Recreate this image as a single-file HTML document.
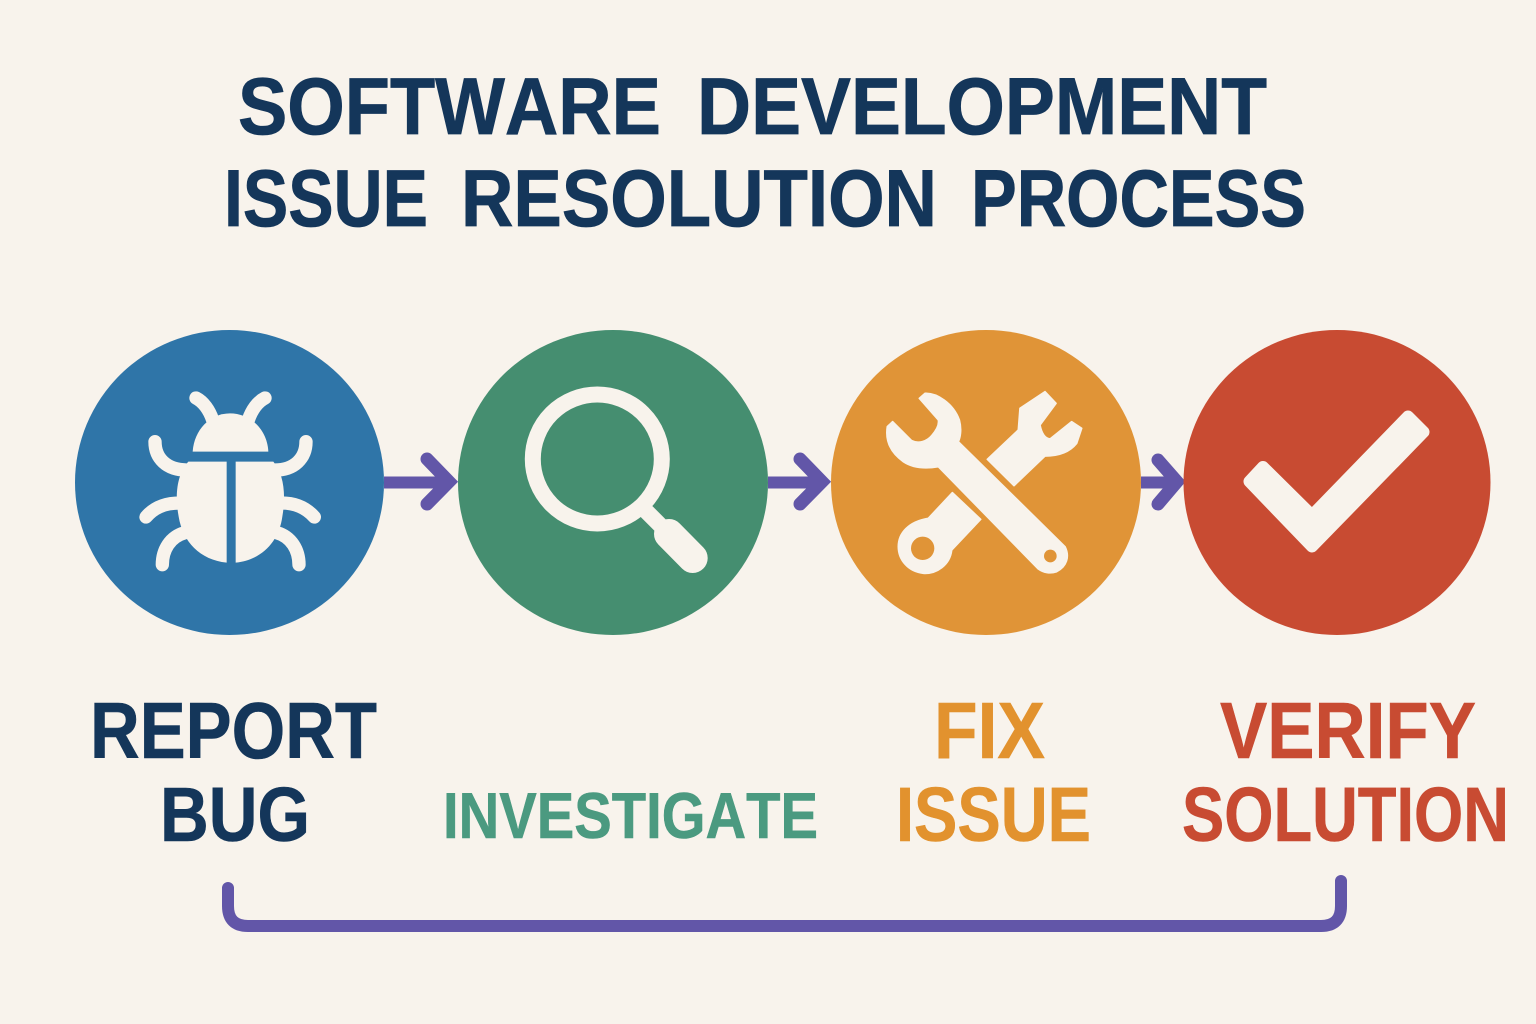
<!DOCTYPE html>
<html><head><meta charset="utf-8"><style>
html,body{margin:0;padding:0;background:#f8f3ec;width:1536px;height:1024px;overflow:hidden}
svg{display:block}
text{font-family:"Liberation Sans",sans-serif;font-weight:bold;font-kerning:none}
</style></head><body>
<svg xmlns="http://www.w3.org/2000/svg" width="1536" height="1024" viewBox="0 0 1536 1024">
<rect width="1536" height="1024" fill="#f8f3ec"/>
<g fill="#14365a" stroke="#14365a" stroke-width=".8" font-size="81">
<text x="238" y="134" textLength="423" lengthAdjust="spacingAndGlyphs">SOFTWARE</text>
<text x="697" y="134" textLength="570" lengthAdjust="spacingAndGlyphs">DEVELOPMENT</text>
<text x="224" y="226" textLength="204" lengthAdjust="spacingAndGlyphs">ISSUE</text>
<text x="461" y="226" textLength="476" lengthAdjust="spacingAndGlyphs">RESOLUTION</text>
<text x="971" y="226" textLength="335" lengthAdjust="spacingAndGlyphs">PROCESS</text>
</g>
<g fill="none" stroke="#6256a8" stroke-linejoin="miter">
<path d="M384 482.500H449" stroke-width="12"/>
<path d="M427 459L449 481.700L427 504" stroke-width="13" stroke-linecap="round"/>
<path d="M768 482.500H822" stroke-width="12"/>
<path d="M800 459L822 481.700L800 504" stroke-width="13" stroke-linecap="round"/>
<path d="M1141 482.500H1177" stroke-width="12"/>
<path d="M1158 460L1177 481.700L1158 504" stroke-width="13" stroke-linecap="round"/>
<path d="M228 888V906Q228 926 248 926H1321Q1341 926 1341 906V881" stroke-width="12" stroke-linecap="round"/>
</g>
<ellipse cx="229.500" cy="482.500" rx="154.500" ry="152.500" fill="#2f75a8"/>
<ellipse cx="613" cy="482.500" rx="155" ry="152.500" fill="#458e70"/>
<ellipse cx="986" cy="482.500" rx="155" ry="152.500" fill="#e09437"/>
<ellipse cx="1337" cy="482.500" rx="153.500" ry="152.500" fill="#c84b32"/>
<g transform="translate(120 370) scale(.33333)" fill="#f8f3ec">
<path d="M218 245C222 180 270 130 330 130C392 130 442 180 445 245Z"/>
<path d="M320 275V578C240 570 188 515 176 440C163 370 173 310 205 275Z"/>
<path d="M347 275V578C425 570 477 515 487 440C499 370 490 310 460 275Z"/>
<g fill="none" stroke="#f8f3ec" stroke-width="40" stroke-linecap="round">
<path d="M228 84C250 95 268 120 278 150"/>
<path d="M435 84C413 95 395 120 385 150"/>
<path d="M105 215C105 265 140 300 200 300"/>
<path d="M558 215C558 265 523 300 465 300"/>
<path d="M78 441C100 415 130 399 180 399"/>
<path d="M583 441C560 415 530 399 485 399"/>
<path d="M127 584C127 540 150 500 195 488"/>
<path d="M537 584C537 540 514 500 470 488"/>
</g>
</g>
<g fill="none" stroke="#f8f3ec" stroke-linecap="round">
<circle cx="597.300" cy="459" r="64.500" stroke-width="16"/>
<path d="M645 510L668 533" stroke-width="16" stroke-linecap="butt"/>
<path d="M669 534L692.700 558" stroke-width="30"/>
</g>
<g transform="translate(870 370) scale(.33333)" fill="#f8f3ec" stroke="#f8f3ec" stroke-width="5" stroke-linejoin="round" fill-rule="evenodd">
<path d="M148 85L165 70C200 68 250 100 268 150C276 180 270 205 265 215L585 530C600 560 590 590 560 605C540 612 520 608 505 597L205 290C170 296 130 295 100 275C65 250 45 215 52 170L68 155L125 212C145 222 170 215 185 197C200 180 208 165 205 150Z"/>
<circle cx="541" cy="558" r="19" fill="#e09437" stroke="none"/>
<path d="M525 65L558 100L510 165C515 190 525 205 540 207L605 155L635 175L620 220C600 245 570 258 525 258L432 347L352 268L445 180L450 115Z"/>
<path d="M247 368L332 448L245 540C240 585 200 612 160 610C115 605 85 570 85 530C85 490 115 455 175 445Z"/>
<circle cx="158" cy="535" r="35" fill="#e09437" stroke="none"/>
</g>
<polygon points="1249.500,481.500 1263,467 1312,515.500 1408,416.500 1423.500,432 1312,546.500" fill="#f8f3ec" stroke="#f8f3ec" stroke-width="12" stroke-linejoin="round"/>
<g font-size="80" stroke-width=".6">
<g fill="#14365a" stroke="#14365a">
<text x="90" y="758" textLength="287" lengthAdjust="spacingAndGlyphs">REPORT</text>
<text x="160" y="841" font-size="77" textLength="150" lengthAdjust="spacingAndGlyphs">BUG</text>
</g>
<text x="443" y="838" font-size="65" fill="#4b9a80" stroke="#4b9a80" textLength="375" lengthAdjust="spacingAndGlyphs">INVESTIGATE</text>
<g fill="#e2922e" stroke="#e2922e">
<text x="934" y="758" textLength="111" lengthAdjust="spacingAndGlyphs">FIX</text>
<text x="896" y="841" font-size="77" textLength="195" lengthAdjust="spacingAndGlyphs">ISSUE</text>
</g>
<g fill="#c84b32" stroke="#c84b32">
<text x="1220" y="758" textLength="256" lengthAdjust="spacingAndGlyphs">VERIFY</text>
<text x="1182" y="841" font-size="77" textLength="327" lengthAdjust="spacingAndGlyphs">SOLUTION</text>
</g>
</g>
</svg>
</body></html>
